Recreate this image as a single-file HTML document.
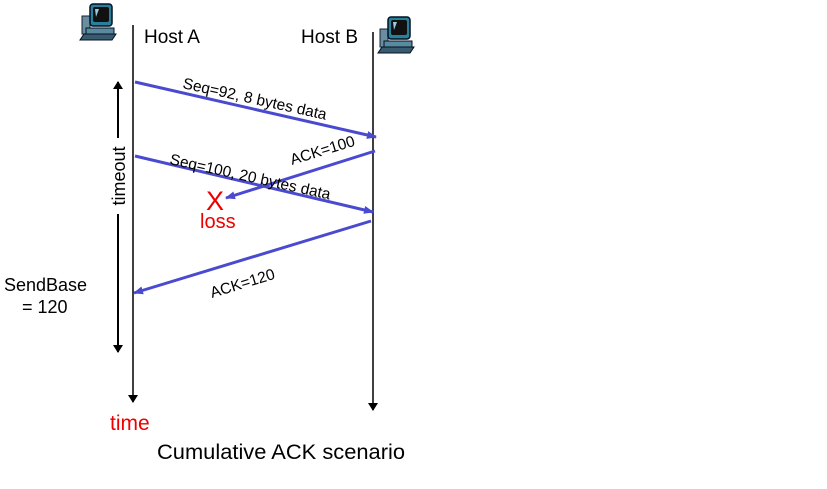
<!DOCTYPE html>
<html><head><style>
body{margin:0;background:#fff;}
svg{display:block;font-family:"Liberation Sans",sans-serif;}
</style></head><body>
<svg width="827" height="489" viewBox="0 0 827 489">
<defs>
<marker id="bh" markerWidth="10" markerHeight="8" refX="9" refY="4" orient="auto" markerUnits="userSpaceOnUse"><path d="M0,0 L10,4 L0,8 z" fill="#4a4ad0"/></marker>
<marker id="kh" markerWidth="8" markerHeight="10" refX="7" refY="5" orient="auto" markerUnits="userSpaceOnUse"><path d="M0,0 L8,5 L0,10 z" fill="#000"/></marker>
<g id="pc">
<rect x="0" y="14" width="8" height="18" fill="#6a8ea0" stroke="#123" stroke-width="1"/>
<rect x="8" y="2" width="22" height="22" rx="3" fill="#2a7f9a" stroke="#012" stroke-width="1.5"/>
<rect x="11" y="5" width="16" height="15" rx="2" fill="#111"/>
<path d="M13 7 L17 7 L14 15 z" fill="#9cd"/>
<rect x="4" y="26" width="28" height="6" fill="#5a8aa0" stroke="#012"/>
<path d="M2 32 L34 32 L30 38 L-2 38 z" fill="#3a5a70" stroke="#012"/>
</g>
</defs>
<use href="#pc" x="82" y="2"/>
<use href="#pc" x="380" y="15"/>
<text x="144" y="43" font-size="19">Host A</text>
<text x="301" y="43" font-size="19">Host B</text>
<line x1="133" y1="25" x2="133" y2="402" stroke="#000" stroke-width="1.5" marker-end="url(#kh)"/>
<line x1="373" y1="32" x2="373" y2="410" stroke="#000" stroke-width="1.5" marker-end="url(#kh)"/>
<line x1="118" y1="138" x2="118" y2="82" stroke="#000" stroke-width="2" marker-end="url(#kh)"/>
<line x1="118" y1="214" x2="118" y2="352" stroke="#000" stroke-width="2" marker-end="url(#kh)"/>
<text transform="translate(125,176) rotate(-90)" font-size="18" text-anchor="middle">timeout</text>
<line x1="135" y1="82" x2="376" y2="137" stroke="#4a4ad0" stroke-width="3" marker-end="url(#bh)"/>
<line x1="375" y1="151" x2="226" y2="198" stroke="#4a4ad0" stroke-width="3" marker-end="url(#bh)"/>
<line x1="135" y1="156" x2="373" y2="212" stroke="#4a4ad0" stroke-width="3" marker-end="url(#bh)"/>
<line x1="371" y1="221" x2="134" y2="293" stroke="#4a4ad0" stroke-width="3" marker-end="url(#bh)"/>
<text transform="translate(182,88) rotate(12.5)" font-size="15.5">Seq=92, 8 bytes data</text>
<text transform="translate(169,164) rotate(12.5)" font-size="15.5">Seq=100, 20 bytes data</text>
<text transform="translate(292,165) rotate(-17)" font-size="15.5">ACK=100</text>
<text transform="translate(212,298) rotate(-17)" font-size="15.5">ACK=120</text>
<text x="206" y="210" font-size="27" fill="#e00">X</text>
<text x="200" y="228" font-size="20" fill="#e00">loss</text>
<text x="4" y="291" font-size="18">SendBase</text>
<text x="22" y="313" font-size="18">= 120</text>
<text x="110" y="430" font-size="21" fill="#e00">time</text>
<text x="157" y="459" font-size="21" textLength="248" lengthAdjust="spacingAndGlyphs">Cumulative ACK scenario</text>
</svg>
</body></html>
